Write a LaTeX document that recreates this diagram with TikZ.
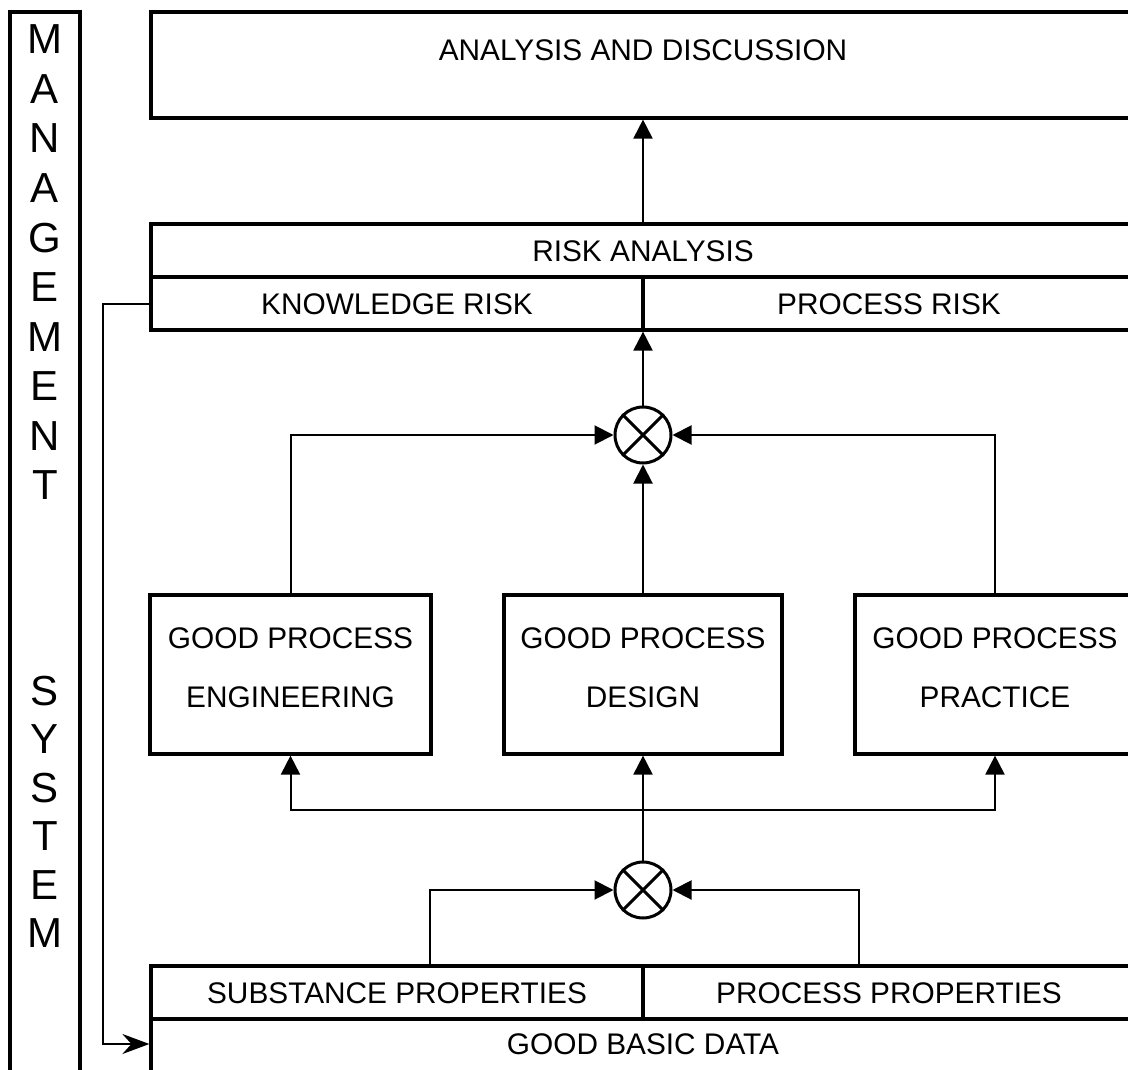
\documentclass[tikz,border=0pt]{standalone}
\usepackage{fontspec}
\setmainfont{Liberation Sans}
\usetikzlibrary{arrows.meta,calc}
\begin{document}
\begin{tikzpicture}[x=1pt,y=-1pt,
  box/.style={draw, line width=3.2pt, inner sep=0pt, rectangle},
  txt/.style={anchor=base, inner sep=0pt, font=\fontsize{29.8}{35}\selectfont},
  big/.style={anchor=base, inner sep=0pt, font=\fontsize{42}{48}\selectfont},
  link/.style={line width=2pt},
  arr/.style={link, -{Triangle[length=19pt,width=19pt]}},
  feed/.style={link, -{Stealth[length=27pt,width=20pt,inset=9pt]}},
  mix/.style={circle, draw, line width=3pt, minimum size=56pt, inner sep=0pt}]
\path[use as bounding box] (0,0) rectangle (1128,1070);
\clip (0,0) rectangle (1128,1070);

% management system column
\node[box, minimum width=70pt, minimum height=1078pt] (side) at (45,551) {};
\foreach \l [count=\i from 0] in {M,A,N,A,G,E,M,E,N,T}
  \node[big] (mg-\i) at (45,{54+49.5*\i}) {\l};
\foreach \l [count=\i from 0] in {S,Y,S,T,E,M}
  \node[big] (sy-\i) at (45,{705+48.5*\i}) {\l};

% analysis and discussion
\node[box, minimum width=984pt, minimum height=106pt] (top) at (643,65) {};
\node[txt] (top-t) at (643,61) {ANALYSIS AND DISCUSSION};

% risk analysis
\node[box, minimum width=984pt, minimum height=53pt] (ra) at (643,250.5) {};
\node[box, minimum width=492pt, minimum height=53pt] (kr) at (397,303.5) {};
\node[box, minimum width=492pt, minimum height=53pt] (pr) at (889,303.5) {};
\node[txt] (ra-t) at (643,261) {RISK ANALYSIS};
\node[txt] (kr-t) at (397,314) {KNOWLEDGE RISK};
\node[txt] (pr-t) at (889,314) {PROCESS RISK};

% combination points
\node[mix] (c1) at (643,435) {};
\draw[line width=3pt] (c1.north east) -- (c1.south west) (c1.north west) -- (c1.south east);
\node[mix] (c2) at (643,890) {};
\draw[line width=3pt] (c2.north east) -- (c2.south west) (c2.north west) -- (c2.south east);

% good process boxes
\node[box, minimum width=281pt, minimum height=159pt] (gpe) at (290.5,674.5) {};
\node[box, minimum width=278pt, minimum height=159pt] (gpd) at (643,674.5) {};
\node[box, minimum width=280pt, minimum height=159pt] (gpp) at (995,674.5) {};
\node[txt] (gpe-a) at (290.5,648) {GOOD PROCESS};
\node[txt] (gpe-b) at (290.5,707) {ENGINEERING};
\node[txt] (gpd-a) at (643,648) {GOOD PROCESS};
\node[txt] (gpd-b) at (643,707) {DESIGN};
\node[txt] (gpp-a) at (995,648) {GOOD PROCESS};
\node[txt] (gpp-b) at (995,707) {PRACTICE};

% basic data
\node[box, minimum width=492pt, minimum height=53pt] (sp) at (397,992.5) {};
\node[box, minimum width=492pt, minimum height=53pt] (pp) at (889,992.5) {};
\node[box, minimum width=984pt, minimum height=71pt] (gbd) at (643,1054.5) {};
\node[txt] (sp-t) at (397,1003) {SUBSTANCE PROPERTIES};
\node[txt] (pp-t) at (889,1003) {PROCESS PROPERTIES};
\node[txt] (gbd-t) at (643,1054) {GOOD BASIC DATA};

% connectors
\draw[arr] (ra.north) -- (top.south);
\draw[arr] (c1.north) -- (c1.north |- kr.south);
\draw[arr] (gpe.north) |- (c1.west);
\draw[arr] (gpp.north) |- (c1.east);
\draw[arr] (gpd.north) -- (c1.south);

\coordinate (split) at (643,810);
\draw[link] (c2.north) -- (split);
\draw[arr] (split) -- (gpd.south);
\draw[arr] (split) -| (gpe.south);
\draw[arr] (split) -| (gpp.south);

\draw[arr] ([xshift=33pt]sp.north) |- (c2.west);
\draw[arr] ([xshift=-30pt]pp.north) |- (c2.east);

\draw[feed] (kr.west) -- ++(-46,0) |- ([yshift=10.5pt]gbd.west);
\end{tikzpicture}
\end{document}
